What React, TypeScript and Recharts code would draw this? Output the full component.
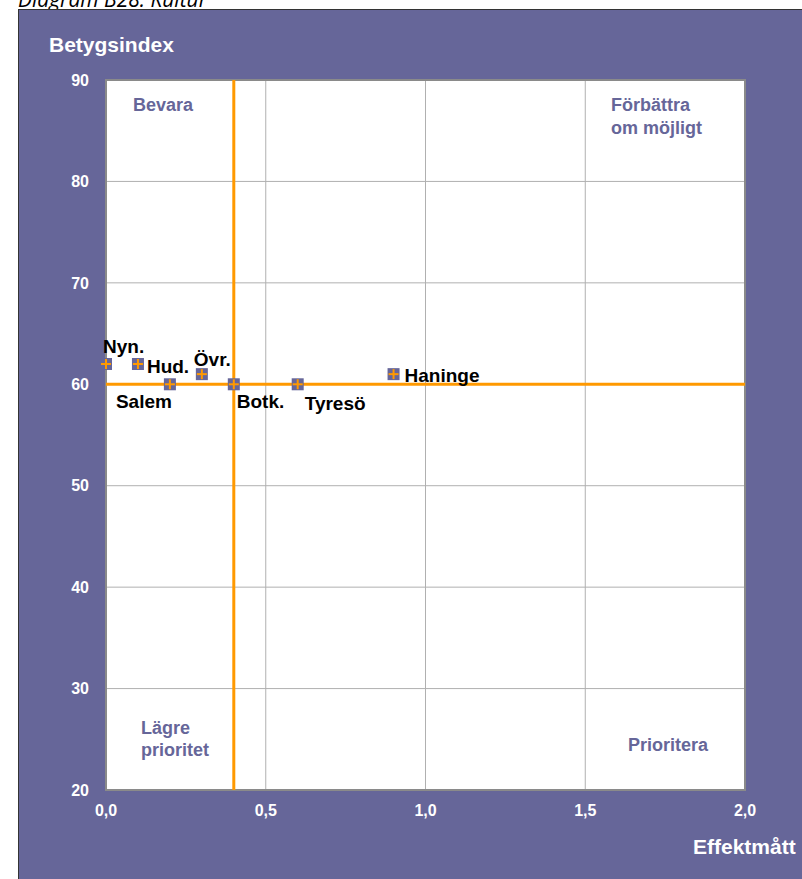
import { ScatterChart, Scatter, XAxis, YAxis, CartesianGrid, ReferenceLine, ReferenceArea } from 'recharts';

const names = ['Nyn.', 'Hud.', 'Salem', 'Övr.', 'Botk.', 'Tyresö', 'Haninge'];
const effekt = [0.0, 0.1, 0.2, 0.3, 0.4, 0.6, 0.9];
const betyg = [62, 62, 60, 61, 60, 60, 61];

const xTicks = [0, 0.5, 1, 1.5, 2];
const yTicks = [20, 30, 40, 50, 60, 70, 80, 90];
const avgEffekt = 0.4;
const avgBetyg = 60;

const data = names.map((name, i) => ({ name, x: effekt[i], y: betyg[i] }));

const FONT = '"Liberation Sans", Arial, sans-serif';
const PANEL = '#666699';
const ORANGE = '#FF9900';

// label placement relative to the marker centre
const labelPos: Record<string, { dx: number; dy: number; anchor: 'start' | 'end' }> = {
  'Nyn.': { dx: -3, dy: -18, anchor: 'start' },
  'Hud.': { dx: 9, dy: 2, anchor: 'start' },
  'Övr.': { dx: -8, dy: -15, anchor: 'start' },
  Salem: { dx: 2, dy: 17, anchor: 'end' },
  'Botk.': { dx: 3, dy: 17, anchor: 'start' },
  'Tyresö': { dx: 7, dy: 19, anchor: 'start' },
  Haninge: { dx: 11, dy: 1, anchor: 'start' },
};

const Marker = (props: any) => {
  const { cx, cy, payload } = props;
  const pos = labelPos[payload.name] || { dx: 8, dy: 0, anchor: 'start' };
  return (
    <g>
      <rect x={cx - 6} y={cy - 6} width={12} height={12} fill={PANEL} />
      <line x1={cx - 5} y1={cy} x2={cx + 5} y2={cy} stroke={ORANGE} strokeWidth={2} />
      <line x1={cx} y1={cy - 5} x2={cx} y2={cy + 5} stroke={ORANGE} strokeWidth={2} />
      <text
        x={cx + pos.dx}
        y={cy + pos.dy}
        textAnchor={pos.anchor}
        dominantBaseline="central"
        fill="#000"
        fontFamily={FONT}
        fontWeight="bold"
        fontSize={19}
      >
        {payload.name}
      </text>
    </g>
  );
};

const tickStyle = { fill: '#fff', fontFamily: FONT, fontWeight: 'bold' as const, fontSize: 16 };

const quadText = { position: 'absolute' as const, color: PANEL, fontFamily: FONT, fontWeight: 'bold' as const, fontSize: 18, lineHeight: '22px' };
const axisTitle = { position: 'absolute' as const, color: '#fff', fontFamily: FONT, fontWeight: 'bold' as const, fontSize: 21, lineHeight: '24px', whiteSpace: 'nowrap' as const };

export default function App() {
  return (
    <div style={{ position: 'absolute', left: 0, top: 0, width: 802, height: 879, overflow: 'hidden', background: '#fff' }}>
      <div style={{ position: 'absolute', left: 18, top: -15, fontFamily: '"Open Sans", sans-serif', fontStyle: 'italic', fontSize: 21, color: '#000', whiteSpace: 'nowrap' }}>
        Diagram B28. Kultur
      </div>
      <div style={{ position: 'absolute', left: 18, top: 9, width: 800, height: 880, background: PANEL, border: '1px solid #333' }} />
      <div style={{ position: 'absolute', left: 0, top: 0 }}>
        <ScatterChart width={802} height={879} margin={{ top: 80, right: 57, bottom: 49, left: 46 }}>
          <CartesianGrid stroke="#b0b0b0" fill="#fff" />
          <XAxis
            type="number"
            dataKey="x"
            domain={[0, 2]}
            ticks={xTicks}
            height={40}
            tickSize={0}
            tickMargin={15}
            tickLine={false}
            axisLine={false}
            tickFormatter={(v: number) => v.toFixed(1).replace('.', ',')}
            tick={tickStyle}
          />
          <YAxis
            type="number"
            dataKey="y"
            domain={[20, 90]}
            ticks={yTicks}
            width={60}
            tickSize={0}
            tickMargin={17}
            tickLine={false}
            axisLine={false}
            tick={tickStyle}
          />
          <ReferenceArea x1={0} x2={2} y1={20} y2={90} fill="none" stroke="#8a8a8a" strokeWidth={2} fillOpacity={0} />
          <ReferenceLine x={avgEffekt} stroke={ORANGE} strokeWidth={3} />
          <ReferenceLine y={avgBetyg} stroke={ORANGE} strokeWidth={3} />
          <Scatter data={data} shape={<Marker />} isAnimationActive={false} />
        </ScatterChart>
      </div>
      <div style={{ ...axisTitle, left: 49, top: 33 }}>Betygsindex</div>
      <div style={{ ...axisTitle, left: 693, top: 835 }}>Effektmått</div>
      <div style={{ ...quadText, left: 133, top: 94 }}>Bevara</div>
      <div style={{ ...quadText, left: 611, top: 94, lineHeight: '23px' }}>Förbättra<br />om möjligt</div>
      <div style={{ ...quadText, left: 141, top: 717 }}>Lägre<br />prioritet</div>
      <div style={{ ...quadText, left: 628, top: 734 }}>Prioritera</div>
    </div>
  );
}
